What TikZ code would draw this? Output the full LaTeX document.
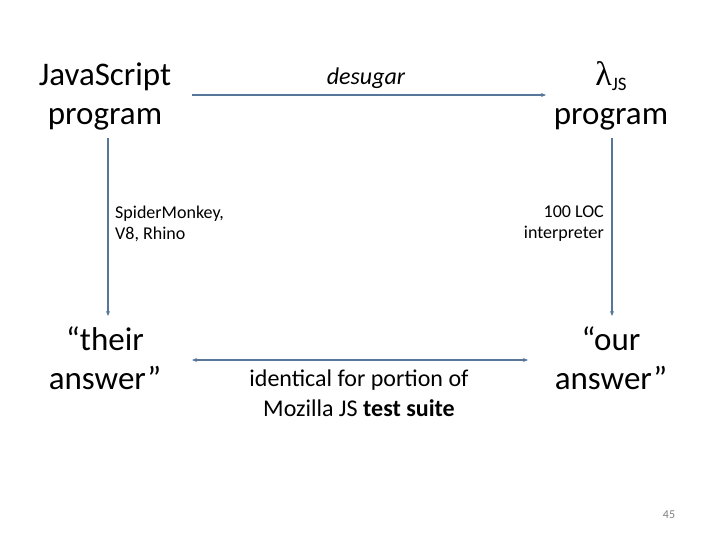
\documentclass[tikz,border=0pt]{standalone}
\usepackage{fontspec}
\setmainfont{Carlito}
\newfontfamily\lamfont{Liberation Serif}
\usetikzlibrary{arrows.meta}
\definecolor{conn}{HTML}{56779A}
\tikzset{
  big/.style={font=\fontsize{33}{39}\selectfont, align=center, inner sep=0pt},
  mid/.style={font=\fontsize{24}{30}\selectfont, align=center, inner sep=0pt},
  small/.style={font=\fontsize{18}{21}\selectfont, inner sep=0pt},
  conn/.style={draw=conn, line width=1.6pt, -{Stealth[length=5pt,width=4pt]}},
  connboth/.style={draw=conn, line width=1.6pt, {Stealth[length=5pt,width=4pt]}-{Stealth[length=5pt,width=4pt]}},
}
\begin{document}
\begin{tikzpicture}[x=1pt,y=-1pt]
\useasboundingbox (0,0) rectangle (720,540);
\node[big] (js) at (105,97) {JavaScript\strut\\program\strut};
\node[big] (ljs) at (611,97) {{\lamfont\fontsize{34}{38}\selectfont λ}\raisebox{-0.35ex}{\fontsize{19}{19}\selectfont JS}\strut\\program\strut};
\node[big] (their) at (105,362) {“their\strut\\answer”\strut};
\node[big] (our) at (611,362) {“our\strut\\answer”\strut};
\coordinate (ta) at (192,95);
\coordinate (tb) at (546,95);
\coordinate (la) at (108,138);
\coordinate (lb) at (108,316);
\coordinate (ra) at (612,138);
\coordinate (rb) at (612,316);
\coordinate (ba) at (192,360);
\coordinate (bb) at (528,360);
\draw[conn] (ta) -- (tb);
\draw[conn] (la) -- (lb);
\draw[conn] (ra) -- (rb);
\draw[connboth] (ba) -- (bb);
\node[mid, font=\fontsize{24}{30}\selectfont\itshape] (des) at (366,78) {desugar};
\node[small, align=left, anchor=west] (sm) at (115,224) {SpiderMonkey,\\V8, Rhino};
\node[small, align=right, anchor=east] (loc) at (604,224) {100 LOC\\interpreter};
\node[mid] (ident) at (359,393) {identical for portion of\\Mozilla JS \textbf{test suite}};
\node[font=\fontsize{12}{14}\selectfont, text=gray, inner sep=0pt] (pg) at (669,515) {45};
\end{tikzpicture}
\end{document}
